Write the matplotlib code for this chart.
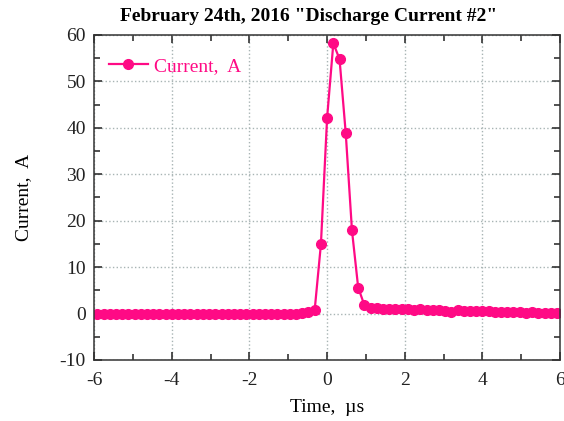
import matplotlib
matplotlib.use("Agg")
import matplotlib.pyplot as plt
from matplotlib.ticker import MultipleLocator

# sampled discharge current (time in microseconds, current in amps)
time_us = [-5.92, -5.76, -5.60, -5.44, -5.28, -5.12, -4.96, -4.80, -4.64, -4.48,
           -4.32, -4.16, -4.00, -3.84, -3.68, -3.52, -3.36, -3.20, -3.04, -2.88,
           -2.72, -2.56, -2.40, -2.24, -2.08, -1.92, -1.76, -1.60, -1.44, -1.28,
           -1.12, -0.96, -0.80, -0.64, -0.48, -0.32, -0.16, 0.00, 0.16, 0.32,
           0.48, 0.64, 0.80, 0.96, 1.12, 1.28, 1.44, 1.60, 1.76, 1.92,
           2.08, 2.24, 2.40, 2.56, 2.72, 2.88, 3.04, 3.20, 3.36, 3.52,
           3.68, 3.84, 4.00, 4.16, 4.32, 4.48, 4.64, 4.80, 4.96, 5.12,
           5.28, 5.44, 5.60, 5.76, 5.92]
current_a = [0.0, -0.1, 0.0, -0.1, 0.0, 0.0, -0.1, 0.0, -0.1, 0.0,
             0.0, -0.1, 0.0, -0.1, 0.0, 0.0, -0.1, 0.0, 0.0, -0.1,
             0.0, -0.1, 0.0, 0.0, -0.1, 0.0, -0.1, 0.0, 0.0, -0.1,
             0.0, 0.0, -0.1, 0.1, 0.3, 0.8, 14.9, 42.2, 58.2, 54.8,
             38.8, 17.9, 5.6, 1.8, 1.2, 1.1, 1.0, 1.0, 1.0, 0.9,
             1.0, 0.8, 0.9, 0.7, 0.8, 0.7, 0.6, 0.4, 0.8, 0.6,
             0.6, 0.5, 0.5, 0.5, 0.4, 0.4, 0.4, 0.3, 0.3, 0.2,
             0.4, 0.2, 0.2, 0.1, 0.2]

pink = "#ff0a85"
plt.rcParams["font.family"] = ["Liberation Serif", "DejaVu Serif"]
plt.rcParams["axes.unicode_minus"] = False

fig = plt.figure(figsize=(5.64, 4.21), dpi=100)
ax = fig.add_axes([0.167, 0.145, 0.826, 0.772])

ax.plot(time_us, current_a, "-o", color=pink, lw=1.6, ms=7, label="Current,  A")

ax.set_xlim(-6, 6)
ax.set_ylim(-10, 60)
ax.xaxis.set_major_locator(MultipleLocator(2))
ax.xaxis.set_minor_locator(MultipleLocator(1))
ax.yaxis.set_major_locator(MultipleLocator(10))
ax.yaxis.set_minor_locator(MultipleLocator(5))
ax.tick_params(which="both", direction="in", top=True, right=True,
               labelsize=14, pad=6, colors="#222222")
ax.tick_params(axis="x", pad=9)
ax.tick_params(which="major", length=6, width=1.1)
ax.tick_params(which="minor", length=4, width=1.1)
ax.grid(True, which="major", ls=":", color="#a8b4b4", lw=1.0)
for s in ax.spines.values():
    s.set_color("#333333")
    s.set_linewidth(1.1)

ax.set_xlabel("Time,  \u00b5s", fontsize=14, labelpad=7)
ax.set_ylabel("Current,  A", fontsize=14, labelpad=20)
ax.set_title('February 24th, 2016 "Discharge Current #2"', fontsize=14,
             fontweight="bold", pad=10, x=0.461)

leg = ax.legend(loc="upper left", frameon=False, fontsize=14,
                handlelength=2.0, handletextpad=0.3, borderaxespad=0.5,
                bbox_to_anchor=(-0.006, 0.985))
for t in leg.get_texts():
    t.set_color(pink)

fig.savefig("out.png", dpi=100)
